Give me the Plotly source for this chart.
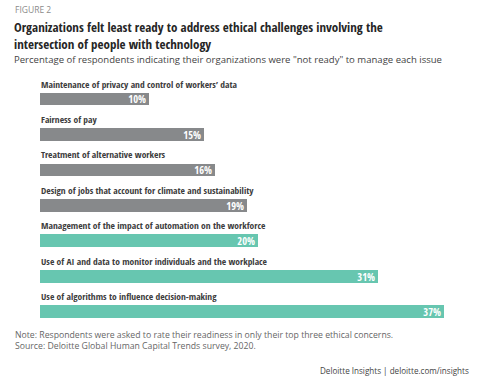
import plotly.graph_objects as go

categories = [
    "Maintenance of privacy and control of workers’ data",
    "Fairness of pay",
    "Treatment of alternative workers",
    "Design of jobs that account for climate and sustainability",
    "Management of the impact of automation on the workforce",
    "Use of AI and data to monitor individuals and the workplace",
    "Use of algorithms to influence decision-making",
]
values = [10, 15, 16, 19, 20, 31, 37]
groups = ["other", "other", "other", "other", "tech", "tech", "tech"]

GRAY = "#87898b"
TEAL = "#67c6b0"
colors = [GRAY if g == "other" else TEAL for g in groups]

W, H = 491, 386
L, R, T, B = 40, 47, 75, 61
PW, PH = W - L - R, H - T - B


def px(x):
    return (x - L) / PW


def py(y):
    return 1 - (y - T) / PH


COND = "Open Sans Condensed"
FONT = "Open Sans"
ypos = list(range(len(categories)))

fig = go.Figure()
fig.add_trace(go.Bar(
    x=values, y=ypos, orientation="h", width=0.36,
    marker=dict(color=colors, line=dict(width=0)),
    text=[f"<b>{v}%</b>" for v in values], textposition="inside",
    insidetextanchor="end", constraintext="none",
    textfont=dict(color="white", size=10.5, family=COND),
    hoverinfo="skip",
))

ann = []
for i, c in enumerate(categories):
    ann.append(dict(x=0, y=i, xref="x", yref="y", text=f"<b>{c}</b>", showarrow=False,
                    xanchor="left", yanchor="middle", yshift=15, xshift=-1,
                    font=dict(family=COND, size=9.5, color="#3c3c3c")))

ann += [
    dict(x=px(13), y=py(9), text="FIGURE 2", font=dict(family=FONT, size=8.5, color="#8a8a8a")),
    dict(x=px(13), y=py(35), borderpad=0,
         text="<b>Organizations felt least ready to address ethical challenges involving the<br>"
              "intersection of people with technology</b>",
         font=dict(family=COND, size=13, color="#262626")),
    dict(x=px(13), y=py(60), borderpad=0,
         text="Percentage of respondents indicating their organizations were \"not ready\" to manage each issue",
         font=dict(family=FONT, size=9.55, color="#444444")),
    dict(x=px(13), y=py(335), text="Note: Respondents were asked to rate their readiness in only their top three ethical concerns.",
         font=dict(family=FONT, size=8.7, color="#666666")),
    dict(x=px(13), y=py(346), text="Source: Deloitte Global Human Capital Trends survey, 2020.",
         font=dict(family=FONT, size=8.7, color="#666666")),
]
for a in ann[len(categories):]:
    a.update(xref="paper", yref="paper", showarrow=False, xanchor="left", yanchor="middle", align="left")
ann.append(dict(x=px(471), y=py(370), xref="paper", yref="paper", showarrow=False,
                xanchor="right", yanchor="middle",
                text="Deloitte Insights | deloitte.com/insights",
                font=dict(family=FONT, size=8.1, color="#444444")))

fig.update_layout(
    width=W, height=H,
    margin=dict(l=L, r=R, t=T, b=B),
    paper_bgcolor="white", plot_bgcolor="white",
    showlegend=False,
    xaxis=dict(range=[0, 37], visible=False, fixedrange=True),
    yaxis=dict(range=[6.38, -0.68], visible=False, fixedrange=True),
    annotations=ann,
    bargap=0,
)

fig.write_html("out.html", config={"displayModeBar": False},
               post_script="document.body.style.margin='0';document.body.style.overflow='hidden';")
